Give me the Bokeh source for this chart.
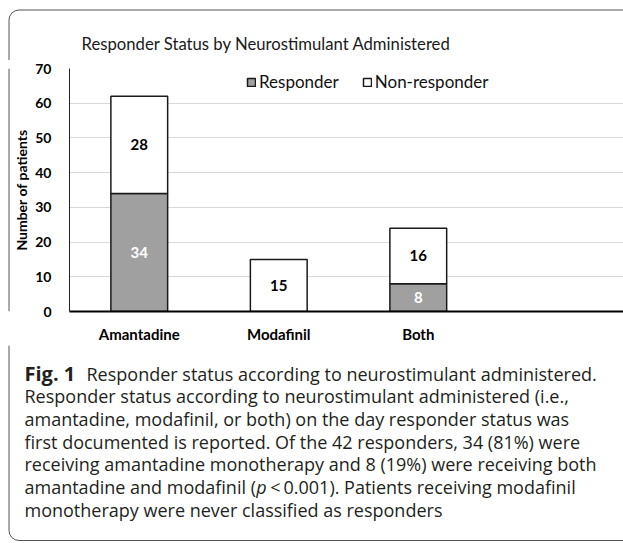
import math
from bokeh.plotting import figure
from bokeh.models import ColumnDataSource, Range1d, FixedTicker, Legend, LegendItem
from bokeh.layouts import column, row
from bokeh.embed import file_html
from bokeh.resources import INLINE
from bokeh.core.properties import value

# ---- data ----
categories = ["Amantadine", "Modafinil", "Both"]
responder = [34, 0, 8]
non_responder = [28, 15, 16]
series_names = ["Responder", "Non-responder"]
y_ticks = [0, 10, 20, 30, 40, 50, 60, 70]
title_text = "Responder Status by Neurostimulant Administered"
y_label = "Number of patients"
caption_head = "Fig. 1"
caption_lines = [
    "Responder status according to neurostimulant administered.",
    "Responder status according to neurostimulant administered (i.e.,",
    "amantadine, modafinil, or both) on the day responder status was",
    "first documented is reported. Of the 42 responders, 34 (81%) were",
    "receiving amantadine monotherapy and 8 (19%) were receiving both",
    "amantadine and modafinil ({p}\u2009<\u20090.001). Patients receiving modafinil",
    "monotherapy were never classified as responders",
]

FONT = "Lato"
CAP_FONT = "Open Sans"
GRAY = "#a0a0a0"
EDGE = "#555555"
W, H = 623, 543
HEAD_H = 60          # header strip height
CHART_H = 285        # chart figure height (y 60..345)
STRIP_W = 10         # strip left of the chart holding the frame line
BX = 8.5             # x of the rounded frame line
RAD = 10


def deco_fig(w, h):
    f = figure(width=w, height=h, x_range=Range1d(0, w), y_range=Range1d(0, h),
               x_axis_type=None, y_axis_type=None, toolbar_location=None,
               output_backend="svg", min_border=0)
    f.outline_line_color = None
    f.background_fill_color = "white"
    f.border_fill_color = "white"
    f.xgrid.visible = False
    f.ygrid.visible = False
    return f


# ---------- header: title + top of frame ----------
head = deco_fig(W, HEAD_H)
def hy(y):
    return HEAD_H - y
head.line([BX + RAD, W], [hy(9.5), hy(9.5)], line_color=EDGE, line_width=1)
head.line([BX, BX], [hy(9.5 + RAD), hy(HEAD_H)], line_color=EDGE, line_width=1)
head.arc(x=[BX + RAD], y=[hy(9.5 + RAD)], radius=RAD, start_angle=math.pi / 2,
         end_angle=math.pi, line_color=EDGE, line_width=1)
head.text(x=[81], y=[hy(43)], text=[title_text], text_font=value(FONT),
          text_font_size="16.7px", text_color="#1a1a1a",
          text_baseline="alphabetic", text_align="left")

# ---------- left strip ----------
strip = deco_fig(STRIP_W, CHART_H)
strip.line([BX, BX], [0, CHART_H], line_color=EDGE, line_width=1)

# ---------- chart ----------
CW = W - STRIP_W
xs = list(range(len(categories)))
src = ColumnDataSource(dict(x=xs, cat=categories, r=responder, n=non_responder))
p = figure(width=CW, height=CHART_H,
           x_range=Range1d(-0.5, 3.471), y_range=Range1d(0, 70),
           output_backend="svg", toolbar_location=None,
           min_border_left=57, min_border_right=0, min_border_top=8, min_border_bottom=32)

rs = p.vbar_stack(["r", "n"], x="x", width=0.407, color=[GRAY, "white"],
                  line_color="#1a1a1a", line_width=1.5, source=src)

lx, ly, lt, lc = [], [], [], []
for i, (r, n) in enumerate(zip(responder, non_responder)):
    if r > 0:
        lx.append(xs[i]); ly.append(r / 2); lt.append(str(r)); lc.append("white")
    if n > 0:
        lx.append(xs[i]); ly.append(r + n / 2); lt.append(str(n)); lc.append("black")
p.text(x=lx, y=ly, text=lt, text_color=lc, text_font=value(FONT),
       text_font_style="bold", text_font_size="15px",
       text_align="center", text_baseline="middle")

legend = Legend(items=[LegendItem(label=series_names[0], renderers=[rs[0]]),
                       LegendItem(label=series_names[1], renderers=[rs[1]])],
                orientation="horizontal", location=(177, 219),
                padding=0, margin=0, spacing=23, label_standoff=3,
                glyph_width=10, glyph_height=10,
                label_text_font=FONT, label_text_font_size="17px",
                label_text_color="#111111",
                background_fill_alpha=0, border_line_color=None)
p.add_layout(legend, "center")

p.xaxis.ticker = FixedTicker(ticks=xs)
p.xaxis.major_label_overrides = {i: c for i, c in zip(xs, categories)}
p.xaxis.axis_line_width = 2
p.xaxis.axis_line_color = "black"
p.xaxis.major_tick_line_color = None
p.xaxis.minor_tick_line_color = None
p.xaxis.major_label_standoff = 7
p.xaxis.major_label_text_font = FONT
p.xaxis.major_label_text_font_style = "bold"
p.xaxis.major_label_text_font_size = "15px"
p.xaxis.major_label_text_color = "black"

p.yaxis.ticker = FixedTicker(ticks=y_ticks)
p.yaxis.axis_line_color = "#222222"
p.yaxis.axis_line_width = 1
p.yaxis.major_tick_line_color = None
p.yaxis.minor_tick_line_color = None
p.yaxis.major_label_standoff = 12
p.yaxis.major_label_text_font = FONT
p.yaxis.major_label_text_font_style = "bold"
p.yaxis.major_label_text_font_size = "14px"
p.yaxis.major_label_text_color = "black"
p.yaxis.axis_label = y_label
p.yaxis.axis_label_text_font = FONT
p.yaxis.axis_label_text_font_style = "bold"
p.yaxis.axis_label_text_font_size = "14px"
p.yaxis.axis_label_text_color = "black"
p.yaxis.axis_label_standoff = 2

p.xgrid.grid_line_color = None
p.ygrid.grid_line_color = "#d9d9d9"
p.ygrid.ticker = FixedTicker(ticks=y_ticks)
p.outline_line_color = None
p.background_fill_color = "white"
p.border_fill_color = "white"

# ---------- caption ----------
CAP_Y0 = HEAD_H + CHART_H
CAP_H = H - CAP_Y0
cap = deco_fig(W, CAP_H)
def cy(y):
    return CAP_H - (y - CAP_Y0)
cap.line([BX, BX], [cy(CAP_Y0), cy(540 - RAD)], line_color=EDGE, line_width=1)
cap.line([BX + RAD, W], [cy(540), cy(540)], line_color=EDGE, line_width=1)
cap.arc(x=[BX + RAD], y=[cy(540 - RAD)], radius=RAD, start_angle=math.pi,
        end_angle=1.5 * math.pi, line_color=EDGE, line_width=1)

CAP_PX = 18
CAP_COLOR = "#231f20"
base0, step = 373, 22.67

# approximate Open Sans advance widths (em/1000) used to place the italic "p"
_W = {" ": 260, "a": 556, "d": 613, "e": 561, "f": 336, "i": 252, "l": 252,
      "m": 931, "n": 614, "o": 601, "t": 352, "(": 296, "p": 613}
def text_w(s, size):
    return sum(_W.get(ch, 560) for ch in s) * size / 1000.0

def cap_text(px, py, text, style="normal", size=CAP_PX):
    cap.text(x=[px], y=[cy(py)], text=[text], text_font=value(CAP_FONT),
             text_font_size=f"{size}px", text_font_style=style, text_color=CAP_COLOR,
             text_baseline="alphabetic", text_align="left")

cap_text(24, base0, caption_head, "bold", 20)
for i, line in enumerate(caption_lines):
    by = base0 + i * step
    if i == 0:
        cap_text(86, by, line)
    elif "{p}" in line:
        a, b = line.split("{p}")
        xp = 24 + text_w(a, CAP_PX)
        cap_text(24, by, a)
        cap_text(xp, by, "p", "italic")
        cap_text(xp + text_w("p", CAP_PX), by, b)
    else:
        cap_text(24, by, line)

layout = column(head, row(strip, p), cap)
open("out.html", "w").write(file_html(layout, INLINE))
